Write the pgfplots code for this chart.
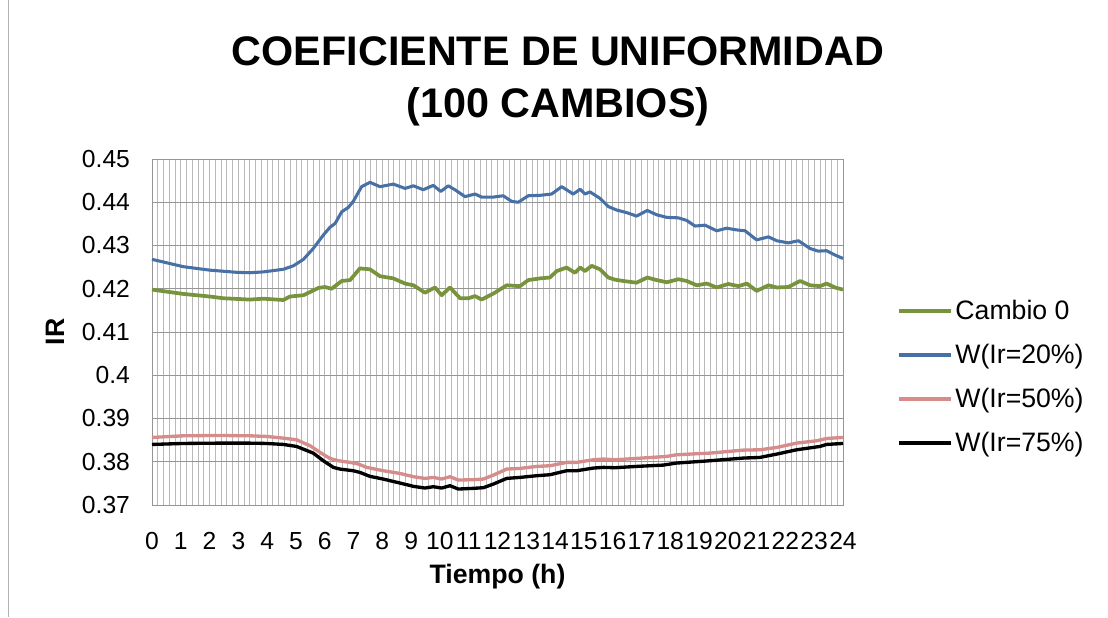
\documentclass[border=0pt]{standalone}
\usepackage{pgfplots}
\pgfplotsset{compat=1.18}
\usepackage{fontspec}
\setmainfont{Liberation Sans}

\definecolor{cverde}{RGB}{119,147,60}
\definecolor{cazul}{RGB}{70,112,166}
\definecolor{crosa}{RGB}{214,140,138}
\definecolor{grid}{RGB}{185,185,185}
\definecolor{gridh}{RGB}{150,150,150}

\begin{document}
\begin{tikzpicture}
% page: 1108x618 px at 0.75pt/px, plot area 691x346 px
\useasboundingbox (-114pt,-84.75pt) rectangle (717pt,378.75pt);
\draw[gray!60, line width=0.6pt] (-108pt,-84pt) -- (-108pt,378.75pt);
\begin{axis}[
    at={(0,0)}, anchor=south west,
    scale only axis,
    width=518.25pt, height=259.5pt,
    xmin=0, xmax=24, ymin=0.37, ymax=0.45,
    xtick={0,...,24},
    ytick={0.37,0.38,0.39,0.4,0.41,0.42,0.43,0.44,0.45},
    minor x tick num=4,
    grid=both,
    major x grid style={grid, line width=0.65pt},
    minor x grid style={grid, line width=0.65pt},
    major y grid style={gridh, line width=0.7pt},
    axis line style={gridh, line width=0.7pt},
    major tick length=0pt, minor tick length=0pt,
    /pgf/number format/assume math mode=true,
    tick label style={font=\fontsize{18.5}{20}\selectfont},
    xticklabel style={yshift=-17pt},
    yticklabel style={xshift=-13pt},
    title={COEFICIENTE DE UNIFORMIDAD\\(100 CAMBIOS)},
    title style={at={(axis description cs:0.5875,1.2009)}, anchor=center,
        align=center, font=\bfseries\fontsize{31}{39}\selectfont},
    xlabel={Tiempo (h)},
    xlabel style={at={(axis description cs:0.5,-0.208)}, anchor=center,
        font=\bfseries\fontsize{20}{24}\selectfont},
    ylabel={IR},
    ylabel style={at={(axis description cs:-0.1404,0.5)}, anchor=center,
        font=\bfseries\fontsize{20}{24}\selectfont},
    legend style={at={(axis description cs:1.072,0.37)}, anchor=west,
        draw=none, fill=none, row sep=13pt,
        font=\fontsize{20}{24}\selectfont},
    legend cell align=left,
    legend image code/.code={\draw[#1] (0pt,0pt) -- (39pt,0pt);},
    clip=false,
]
\addplot[cverde, line width=2.8pt, line join=round] coordinates {
(0,0.4198) (1.09,0.4188) (2.01,0.4182) (2.48,0.4178) (3.40,0.4175)
(3.87,0.4177) (4.56,0.4174) (4.79,0.4182) (5.26,0.4185) (5.60,0.4196)
(5.78,0.4202) (6.01,0.4204) (6.24,0.4200) (6.59,0.4218) (6.88,0.4220)
(7.22,0.4247) (7.57,0.4245) (7.92,0.4229) (8.38,0.4224) (8.79,0.4212)
(9.08,0.4208) (9.48,0.4191) (9.83,0.4203) (10.06,0.4185) (10.35,0.4203)
(10.70,0.4178) (10.99,0.4178) (11.22,0.4183) (11.45,0.4175) (11.86,0.4189)
(12.32,0.4208) (12.78,0.4206) (13.07,0.4220) (13.48,0.4224) (13.82,0.4226)
(14.06,0.4241) (14.40,0.4249) (14.69,0.4237) (14.87,0.4249) (15.04,0.4241)
(15.27,0.4253) (15.56,0.4245) (15.85,0.4226) (16.08,0.4221) (16.37,0.4218)
(16.83,0.4214) (17.20,0.4226) (17.53,0.4220) (17.88,0.4215) (18.28,0.4222)
(18.57,0.4218) (18.92,0.4208) (19.27,0.4212) (19.61,0.4203) (20.02,0.4211)
(20.37,0.4206) (20.66,0.4212) (21.00,0.4195) (21.41,0.4208) (21.70,0.4203)
(22.10,0.4204) (22.51,0.4218) (22.86,0.4208) (23.20,0.4206) (23.43,0.4212)
(23.72,0.4203) (24.00,0.4198)
};
\addlegendentry{Cambio 0}
\addplot[cazul, line width=2.3pt, line join=round] coordinates {
(0,0.4268) (1.09,0.4251) (2.01,0.4243) (2.94,0.4238) (3.40,0.4237)
(3.87,0.4239) (4.56,0.4245) (4.91,0.4253) (5.26,0.4268) (5.60,0.4293)
(5.95,0.4324) (6.18,0.4342) (6.36,0.4351) (6.59,0.4378) (6.82,0.4388)
(6.99,0.4402) (7.28,0.4436) (7.57,0.4446) (7.92,0.4436) (8.38,0.4442)
(8.79,0.4432) (9.08,0.4438) (9.42,0.4429) (9.77,0.4439) (10.03,0.4425)
(10.29,0.4438) (10.52,0.4429) (10.87,0.4413) (11.22,0.4419) (11.45,0.4412)
(11.86,0.4412) (12.20,0.4415) (12.49,0.4402) (12.72,0.4400) (13.07,0.4415)
(13.48,0.4416) (13.88,0.4419) (14.23,0.4436) (14.63,0.4419) (14.87,0.4430)
(15.04,0.4419) (15.21,0.4424) (15.56,0.4409) (15.85,0.4390) (16.14,0.4382)
(16.49,0.4376) (16.83,0.4368) (17.20,0.4381) (17.53,0.4371) (17.88,0.4365)
(18.28,0.4364) (18.57,0.4358) (18.86,0.4345) (19.21,0.4347) (19.61,0.4334)
(19.96,0.4340) (20.31,0.4336) (20.60,0.4334) (21.00,0.4313) (21.41,0.4320)
(21.70,0.4311) (22.10,0.4306) (22.45,0.4311) (22.86,0.4293) (23.14,0.4287)
(23.43,0.4288) (23.72,0.4278) (24.00,0.4270)
};
\addlegendentry{W(Ir=20\%)}
\addplot[crosa, line width=2.5pt, line join=round] coordinates {
(0,0.38562) (1.09,0.38600) (2.25,0.38608) (3.40,0.38600) (3.98,0.38585)
(4.56,0.38546) (5.02,0.38508) (5.49,0.38370) (5.84,0.38215) (6.18,0.38077)
(6.47,0.38023) (6.88,0.37985) (7.17,0.37946) (7.46,0.37870) (8.03,0.37792)
(8.61,0.37730) (9.08,0.37654) (9.48,0.37615) (9.77,0.37638) (10.06,0.37600)
(10.35,0.37654) (10.64,0.37577) (11.16,0.37585) (11.51,0.37600) (11.86,0.37692)
(12.32,0.37831) (12.78,0.37846) (13.36,0.37892) (13.82,0.37908) (14.40,0.37985)
(14.75,0.37985) (15.33,0.38046) (15.68,0.38062) (16.08,0.38046) (16.83,0.38077)
(17.88,0.38123) (18.22,0.38162) (19.38,0.38200) (20.54,0.38269) (21.12,0.38277)
(21.70,0.38331) (22.39,0.38431) (23.09,0.38485) (23.43,0.38538) (24.00,0.38562)
};
\addlegendentry{W(Ir=50\%)}
\addplot[black, line width=2.5pt, line join=round] coordinates {
(0,0.38400) (1.09,0.38423) (2.25,0.38430) (3.40,0.38430) (3.98,0.38423)
(4.56,0.38400) (5.02,0.38354) (5.60,0.38200) (5.95,0.38023) (6.30,0.37870)
(6.53,0.37830) (6.99,0.37792) (7.22,0.37754) (7.57,0.37662) (8.03,0.37600)
(8.61,0.37508) (9.08,0.37431) (9.48,0.37392) (9.77,0.37423) (10.06,0.37392)
(10.35,0.37446) (10.64,0.37369) (11.16,0.37385) (11.51,0.37400) (11.86,0.37485)
(12.32,0.37615) (12.78,0.37638) (13.36,0.37677) (13.82,0.37700) (14.40,0.37792)
(14.75,0.37792) (15.33,0.37854) (15.68,0.37870) (16.08,0.37862) (16.83,0.37892)
(17.76,0.37923) (18.22,0.37970) (19.38,0.38023) (20.54,0.38085) (21.12,0.38100)
(21.70,0.38177) (22.39,0.38277) (23.20,0.38354) (23.43,0.38400) (24.00,0.38423)
};
\addlegendentry{W(Ir=75\%)}
\end{axis}
\end{tikzpicture}
\end{document}
